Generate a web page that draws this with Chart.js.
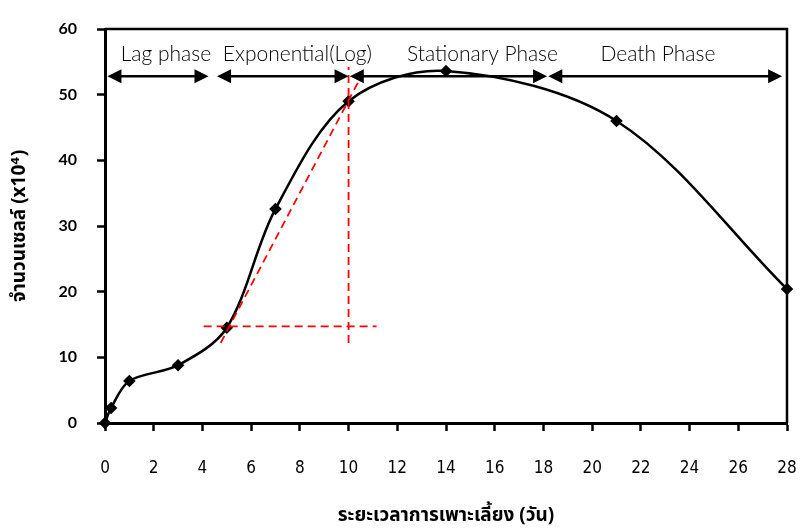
<!DOCTYPE html>
<html>
<head>
<meta charset="utf-8">
<script src="https://cdn.jsdelivr.net/npm/chart.js@4.4.1/dist/chart.umd.min.js"></script>
<style>
  body { margin: 0; background: #fff; }
  #wrap { width: 802px; height: 529px; position: relative; }
</style>
</head>
<body>
<div id="wrap"><canvas id="growth-chart"></canvas></div>
<script>
"use strict";

// Data
const days = [0, 0.25, 1, 3, 5, 7, 10, 14, 21, 28];
const cells = [0, 2.3, 6.4, 8.8, 14.5, 32.6, 49.0, 53.6, 46.0, 20.4];

// Red dashed helper lines
const tangentX = [4.75, 10.45];
const tangentY = [12.2, 52.3];
const hLineX = [4.05, 11.15];
const hLineY = [14.7, 14.7];
const vLineX = [10, 10];
const vLineY = [12.2, 54.2];

// Phase arrows and labels
const phaseNames = ["Lag phase", "Exponential(Log)", "Stationary Phase", "Death Phase"];
const phaseStart = [0.1, 4.6, 10.05, 18.2];
const phaseEnd = [4.25, 10.0, 18.15, 27.8];
const phaseLabelX = [2.5, 7.9, 15.5, 22.7];
const arrowY = 52.8;
const labelY = 56.2;

const thaiFont = "'Noto Sans Thai', 'Noto Sans Thai Looped', Loma, Garuda, 'Tlwg Typo', 'DejaVu Sans', sans-serif";

function toPoints(xs, ys) {
    return xs.map((v, i) => ({ x: v, y: ys[i] }));
}

// Plugin: frame on top/right, arrows and phase names
const phasePlugin = {
    id: 'phases',
    afterDatasetsDraw(chart) {
        const { ctx, chartArea, scales } = chart;
        const x = scales.x, y = scales.y;
        ctx.save();
        ctx.strokeStyle = '#000';
        ctx.lineWidth = 2.5;
        ctx.beginPath();
        ctx.moveTo(chartArea.left, chartArea.top);
        ctx.lineTo(chartArea.right, chartArea.top);
        ctx.lineTo(chartArea.right, chartArea.bottom);
        ctx.stroke();

        const ay = y.getPixelForValue(arrowY);
        const head = 14, half = 7;
        ctx.fillStyle = '#000';
        ctx.lineWidth = 2.5;
        for (let i = 0; i < phaseNames.length; i++) {
            const x1 = x.getPixelForValue(phaseStart[i]);
            const x2 = x.getPixelForValue(phaseEnd[i]);
            ctx.beginPath();
            ctx.moveTo(x1 + head - 2, ay);
            ctx.lineTo(x2 - head + 2, ay);
            ctx.stroke();
            ctx.beginPath();
            ctx.moveTo(x1, ay);
            ctx.lineTo(x1 + head, ay - half);
            ctx.lineTo(x1 + head, ay + half);
            ctx.closePath();
            ctx.fill();
            ctx.beginPath();
            ctx.moveTo(x2, ay);
            ctx.lineTo(x2 - head, ay - half);
            ctx.lineTo(x2 - head, ay + half);
            ctx.closePath();
            ctx.fill();

            ctx.font = "300 21px Lato, 'Open Sans', sans-serif";
            ctx.textAlign = 'center';
            ctx.textBaseline = 'middle';
            ctx.fillText(phaseNames[i], x.getPixelForValue(phaseLabelX[i]), y.getPixelForValue(labelY));
        }
        ctx.restore();
    }
};

const redDash = {
    borderColor: '#ff0000',
    borderWidth: 1.8,
    borderDash: [8, 5],
    pointRadius: 0,
    showLine: true,
    tension: 0,
    fill: false
};

new Chart(document.getElementById('growth-chart'), {
    type: 'scatter',
    data: {
        datasets: [
            Object.assign({ data: toPoints(tangentX, tangentY) }, redDash),
            Object.assign({ data: toPoints(hLineX, hLineY) }, redDash),
            Object.assign({ data: toPoints(vLineX, vLineY) }, redDash),
            {
                data: toPoints(days, cells),
                showLine: true,
                borderColor: '#000',
                borderWidth: 2.5,
                tension: 0.33,
                pointStyle: 'rectRot',
                pointRadius: 4.5,
                pointBackgroundColor: '#000',
                pointBorderColor: '#000',
                clip: false
            }
        ]
    },
    options: {
        responsive: true,
        maintainAspectRatio: false,
        animation: false,
        layout: { padding: { top: 29, right: 15, left: 0, bottom: 0 } },
        plugins: {
            legend: { display: false },
            tooltip: { enabled: false }
        },
        scales: {
            x: {
                type: 'linear',
                min: 0,
                max: 28,
                afterFit: (scale) => {
                    scale.height = 106;
                    scale.paddingLeft = 0;
                    scale.paddingRight = 0;
                },
                ticks: {
                    stepSize: 2,
                    color: '#000',
                    padding: 27,
                    font: { family: "'Liberation Sans Narrow', 'DejaVu Sans Condensed', sans-serif", size: 17 }
                },
                grid: { display: true, drawOnChartArea: false, drawTicks: true, tickLength: 8, tickWidth: 2.5, color: '#000' },
                border: { display: true, color: '#000', width: 3 },
                title: {
                    display: true,
                    text: 'ระยะเวลาการเพาะเลี้ยง (วัน)',
                    color: '#000',
                    padding: { top: 14, bottom: 0 },
                    font: { family: thaiFont, size: 19, weight: 'bold' }
                }
            },
            y: {
                min: 0,
                max: 60,
                afterFit: (scale) => {
                    scale.width = 105;
                    scale.paddingTop = 0;
                    scale.paddingBottom = 0;
                },
                ticks: {
                    stepSize: 10,
                    color: '#000',
                    padding: 20,
                    font: { family: "Lato, 'Open Sans', sans-serif", size: 16, weight: 'bold' }
                },
                grid: { display: true, drawOnChartArea: false, drawTicks: true, tickLength: 8, tickWidth: 2.5, color: '#000' },
                border: { display: true, color: '#000', width: 3 },
                title: {
                    display: true,
                    text: 'จำนวนเซลล์ (x10⁴)',
                    color: '#000',
                    padding: { top: 10, bottom: 20 },
                    font: { family: thaiFont, size: 19, weight: 'bold' }
                }
            }
        }
    },
    plugins: [phasePlugin]
});
</script>
</body>
</html>
